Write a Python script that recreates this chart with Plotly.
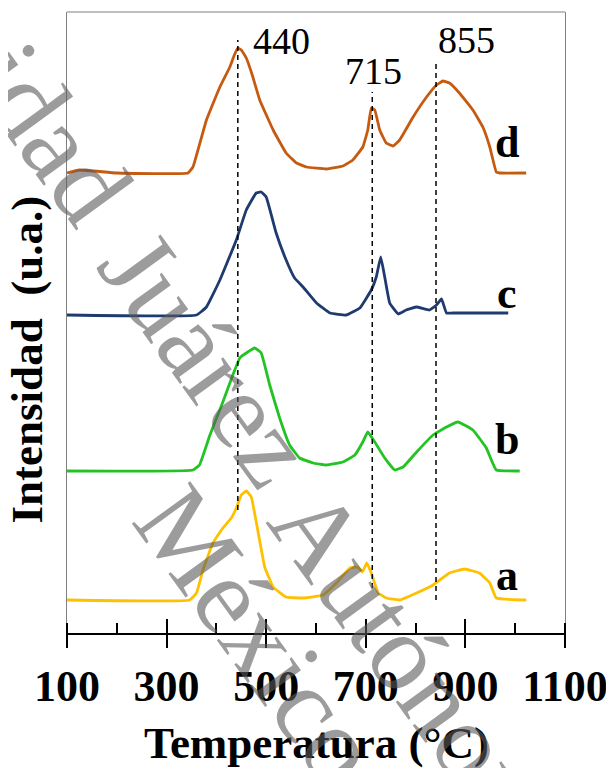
import plotly.graph_objects as go

# ---- data (temperature in °C, intensity in arbitrary units, curves offset vertically) ----
temp_d = [100, 125, 200, 343, 353, 380, 407, 427, 436, 443, 450, 460, 472, 487, 514, 540, 561, 581, 621, 654, 674, 694, 704, 711, 718, 728, 741, 755, 768, 795, 822, 842, 855, 868, 888, 915, 935, 949, 962, 969, 1022]
int_d = [460, 463, 460, 460, 466, 513, 546, 566, 578, 585, 583, 575, 558, 533, 503, 480, 470, 466, 464, 467, 473, 486, 503, 525, 523, 503, 490, 487, 493, 516, 536, 548, 552, 550, 540, 523, 506, 486, 461, 460, 460]

temp_c = [100, 360, 380, 407, 440, 460, 480, 490, 500, 520, 540, 557, 574, 601, 628, 661, 688, 711, 721, 730, 738, 748, 765, 781, 802, 828, 842, 852, 862, 875, 986]
int_c = [318, 318, 326, 353, 393, 423, 440, 441, 436, 400, 373, 355, 346, 330, 320, 318, 325, 343, 356, 376, 356, 330, 319, 323, 326, 323, 328, 334, 320, 320, 320]

temp_b = [100, 353, 366, 387, 413, 433, 447, 463, 477, 490, 507, 527, 547, 567, 594, 621, 654, 678, 694, 704, 718, 738, 758, 775, 802, 835, 862, 885, 915, 942, 962, 1009]
int_b = [162, 163, 168, 198, 231, 258, 275, 281, 285, 280, 248, 215, 188, 175, 170, 168, 171, 178, 191, 201, 191, 175, 163, 166, 181, 198, 206, 211, 203, 185, 163, 162]

temp_a = [100, 346, 360, 373, 393, 413, 430, 440, 450, 460, 470, 483, 497, 514, 540, 574, 614, 641, 668, 684, 693, 702, 711, 725, 741, 768, 802, 835, 868, 898, 928, 949, 962, 1022]
int_a = [33, 33, 40, 63, 90, 105, 115, 125, 138, 142, 136, 103, 66, 46, 36, 35, 38, 50, 65, 66, 61, 70, 60, 40, 35, 33, 40, 48, 60, 64, 60, 50, 35, 33]

series_names = ["a", "b", "c", "d"]
series_colors = ["#FFC000", "#22C322", "#1F3A6E", "#C55A11"]
label_temp = [983, 983, 983, 983]
label_int = [58, 194, 340, 491]

# reference (dashed) lines: position, bottom, top
ref_pos = [443, 713, 841]
ref_bottom = [123, 45, 33]
ref_top = [593, 541, 570]
ref_text = ["440", "715", "855"]
ref_text_temp = [531, 716, 903]
ref_text_int = [592, 562, 593]

tick_vals = [100, 300, 500, 700, 900, 1100]
tick_text = ["100", "300", "500", "700", "900", "1100"]

SERIF = "Liberation Serif, Times New Roman, serif"

fig = go.Figure()

for xs, ys, col, name in zip([temp_a, temp_b, temp_c, temp_d],
                             [int_a, int_b, int_c, int_d],
                             series_colors, series_names):
    fig.add_trace(go.Scatter(x=xs, y=ys, mode="lines", name=name,
                             line=dict(color=col, width=2.8, shape="spline", smoothing=0.3),
                             showlegend=False, hoverinfo="skip"))

for xp, y0, y1 in zip(ref_pos, ref_bottom, ref_top):
    fig.add_trace(go.Scatter(x=[xp, xp], y=[y0, y1], mode="lines",
                             line=dict(color="black", width=1.5, dash="5px,4px"),
                             showlegend=False, hoverinfo="skip"))

# helper invisible trace for the overlay axis (inner part of major ticks)
fig.add_trace(go.Scatter(x=[100], y=[0], xaxis="x2", mode="lines",
                         opacity=0, showlegend=False, hoverinfo="skip"))

annotations = []
for n, tx, ty in zip(series_names, label_temp, label_int):
    annotations.append(dict(x=tx, y=ty, xref="x", yref="y", text=n, showarrow=False,
                            font=dict(family=SERIF, size=44, color="black", weight="bold")))
for t, tx, ty in zip(ref_text, ref_text_temp, ref_text_int):
    annotations.append(dict(x=tx, y=ty, xref="x", yref="y", text=t, showarrow=False,
                            font=dict(family=SERIF, size=38, color="black")))

# axis titles
annotations.append(dict(x=-0.081, y=0.44, xref="paper", yref="paper", text="Intensidad  (u.a.)",
                        showarrow=False, textangle=-90, xanchor="center", yanchor="middle",
                        font=dict(family=SERIF, size=45, color="black", weight="bold")))
annotations.append(dict(x=0.5, y=-0.177, xref="paper", yref="paper", text="Temperatura (°C)",
                        showarrow=False, xanchor="center", yanchor="middle",
                        font=dict(family=SERIF, size=45, color="black", weight="bold")))

# watermark
wm_words = ["Universidad", "Juárez", "Autónoma", "México"]
wm_x = [-0.236, 0.283, 0.731, 0.385]
wm_y = [1.031, 0.442, -0.089, -0.003]
for w, wx, wy in zip(wm_words, wm_x, wm_y):
    annotations.append(dict(x=wx, y=wy, xref="paper", yref="paper", text=w, showarrow=False,
                            textangle=54, xanchor="center", yanchor="middle",
                            font=dict(family=SERIF, size=110, color="rgba(90,90,90,0.6)")))

fig.update_layout(
    width=606, height=760,
    margin=dict(l=59, r=49, t=4, b=135, autoexpand=False),
    paper_bgcolor="white", plot_bgcolor="white",
    showlegend=False,
    xaxis=dict(range=[100, 1100], tickmode="array", tickvals=tick_vals, ticktext=tick_text,
               ticks="outside", ticklen=13, tickwidth=1.5, tickcolor="black",
               showline=True, linecolor="black", linewidth=1.5, mirror=False, automargin=False,
               showgrid=False, zeroline=False, ticklabelstandoff=0,
               tickfont=dict(family=SERIF, size=44, color="black", weight="bold"),
               minor=dict(ticks="inside", dtick=100, tick0=100, ticklen=10, tickwidth=1.5, tickcolor="black",
                          showgrid=False)),
    xaxis2=dict(range=[100, 1100], overlaying="x", anchor="y", side="bottom", automargin=False,
                tickmode="array", tickvals=tick_vals, ticks="inside", ticklen=14, tickwidth=1.5,
                tickcolor="black", showticklabels=False, showline=False, showgrid=False, zeroline=False),
    yaxis=dict(range=[0, 621], showticklabels=False, ticks="", showgrid=False, zeroline=False,
               showline=True, linecolor="#808080", linewidth=1, mirror=True, automargin=False),
    shapes=[dict(type="line", xref="paper", yref="paper", x0=0, x1=1, y0=1, y1=1,
                 line=dict(color="#808080", width=1))],
    annotations=annotations,
)

fig.write_html("out.html")
